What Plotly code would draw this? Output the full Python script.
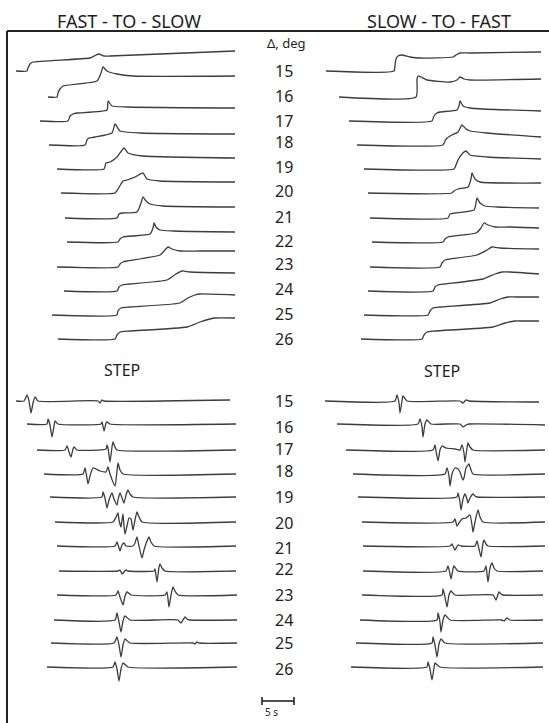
import plotly.graph_objects as go

W, H = 549, 723
MM_PER_S = 6.4          # chart speed: the 5 s scale bar is 32 mm long
RIGHT_PANEL_MM = 270    # left edge of the right-hand column on the chart sheet

DELTA_DEG = [15, 16, 17, 18, 19, 20, 21, 22, 23, 24, 25, 26]

# baselines of the rows (mm from the top of the sheet)
TOP_BASE = [71, 97, 121, 145, 169, 193, 218, 242, 267, 291, 315, 339]
BOT_BASE = [401, 424, 450, 474, 497, 522, 546, 571, 595, 620, 643, 667]
TOP_LABEL_Y = [71, 96, 121, 142, 167, 191, 217, 241, 264, 289, 314, 339]
BOT_LABEL_Y = [401, 427, 449, 471, 497, 523, 548, 569, 595, 620, 643, 669]

# ---- FAST-TO-SLOW, position records: time (mm of chart), deflection (mm, up)
FS_POS_X = [
    [16, 27, 28, 30, 33, 90, 96, 99, 104, 110, 235],
    [48, 57, 58, 60, 63, 97, 101, 103, 107, 117, 133, 235],
    [40, 68, 70, 73, 77, 107, 108, 112, 127, 235],
    [49, 85, 87, 89, 95, 112, 115, 120, 140, 235],
    [57, 104, 106, 110, 117, 124, 128, 143, 235],
    [61, 115, 118, 121, 123, 127, 135, 143, 147, 160, 235],
    [65, 117, 119, 122, 137, 141, 143, 146, 150, 163, 235],
    [67, 118, 120, 123, 150, 153, 154, 156, 160, 173, 235],
    [57, 118, 120, 123, 127, 160, 165, 168, 172, 180, 200, 235],
    [64, 117, 119, 122, 130, 167, 176, 182, 190, 235],
    [52, 117, 118, 121, 130, 180, 188, 195, 200, 235],
    [58, 115, 117, 120, 130, 187, 200, 210, 215, 235],
]
FS_POS_Y = [
    [0, 0, 3, 7, 9, 13, 16, 17, 15, 15, 20],
    [0, 0, 4, 8, 11, 16, 24, 30, 26, 23, 21, 21],
    [0, 0, 5, 7, 8, 11, 20, 15, 14, 13],
    [0, 0, 5, 7, 8, 12, 21, 14, 12, 11],
    [0, 0, 6, 7, 12, 21, 16, 13, 11],
    [0, 0, 4, 9, 12, 13, 16, 20, 14, 12, 11],
    [0, 0, 4, 5, 6, 15, 21, 17, 14, 12, 11],
    [0, 0, 3, 5, 8, 14, 19, 15, 12, 11, 10],
    [0, 0, 3, 5, 6, 12, 17, 20, 18, 16, 16, 16],
    [0, 0, 4, 6, 7, 11, 17, 20, 19, 18],
    [0, 0, 4, 7, 8, 12, 17, 20, 21, 20],
    [0, 0, 4, 7, 8, 12, 17, 20, 21, 21],
]

# ---- SLOW-TO-FAST, position records
SF_POS_X = [
    [56, 124, 125, 126, 128, 132, 140, 150, 183, 186, 190, 200, 271],
    [69, 146, 147, 148, 151, 157, 180, 187, 190, 194, 200, 271],
    [79, 162, 164, 167, 170, 187, 189, 190, 193, 200, 213, 271],
    [87, 173, 175, 177, 182, 188, 192, 196, 200, 217, 271],
    [94, 184, 186, 188, 192, 196, 200, 217, 271],
    [98, 182, 184, 188, 198, 201, 202, 205, 210, 271],
    [100, 178, 180, 185, 204, 206, 207, 210, 215, 227, 269],
    [102, 173, 175, 178, 206, 211, 214, 218, 225, 240, 269],
    [100, 170, 172, 175, 180, 207, 217, 222, 230, 269],
    [98, 163, 165, 168, 175, 213, 225, 232, 240, 269],
    [94, 158, 160, 163, 170, 220, 230, 238, 245, 269],
    [91, 152, 154, 157, 165, 223, 235, 245, 252, 269],
]
SF_POS_Y = [
    [0, 0, 6, 12, 15, 16, 14, 13, 14, 16, 18, 18, 19],
    [0, 0, 18, 21, 20, 17, 15, 17, 20, 18, 17, 18],
    [0, 0, 5, 8, 9, 11, 15, 20, 15, 13, 12, 10],
    [0, 0, 4, 7, 10, 13, 20, 16, 14, 12, 8],
    [0, 0, 4, 9, 15, 18, 14, 12, 10],
    [0, 0, 2, 4, 6, 14, 20, 14, 11, 10],
    [0, 0, 4, 5, 8, 15, 20, 15, 12, 11, 10],
    [0, 0, 3, 5, 9, 14, 19, 17, 15, 15, 14],
    [0, 0, 4, 7, 8, 12, 17, 20, 19, 18],
    [0, 0, 4, 6, 7, 12, 17, 19, 19, 17],
    [0, 0, 4, 7, 8, 12, 16, 18, 18, 18],
    [0, 0, 4, 7, 8, 12, 16, 18, 18, 18],
]

# ---- FAST-TO-SLOW, STEP (velocity) records
FS_STEP_X = [
    [16, 24, 27, 29, 31, 33, 35, 38, 98, 100, 102, 104, 230],
    [27, 47, 48, 50, 52, 54, 55, 58, 101, 102, 104, 106, 107, 110, 236],
    [37, 65, 67, 69, 71, 73, 74, 77, 106, 107, 108, 110, 112, 113, 115, 117, 236],
    [44, 83, 85, 87, 88, 90, 93, 100, 106, 108, 110, 115, 117, 118, 120, 123, 236],
    [50, 102, 103, 105, 107, 109, 112, 114, 117, 118, 120, 122, 124, 126, 128, 130, 133, 236],
    [55, 113, 116, 118, 119, 121, 122, 123, 124, 125, 127, 129, 131, 133, 135, 137, 139, 142, 236],
    [57, 115, 117, 119, 120, 122, 124, 126, 133, 135, 137, 139, 142, 144, 147, 149, 151, 154, 236],
    [59, 118, 120, 122, 124, 126, 128, 154, 155, 157, 159, 160, 162, 165, 236],
    [57, 116, 118, 120, 123, 125, 127, 131, 165, 167, 169, 171, 173, 175, 178, 237],
    [54, 115, 117, 119, 121, 123, 125, 130, 178, 181, 183, 185, 187, 190, 237],
    [51, 114, 117, 119, 121, 123, 125, 130, 193, 195, 197, 199, 237],
    [47, 113, 115, 117, 119, 121, 123, 128, 237],
]
FS_STEP_Y = [
    [0, 0, 6, 0, -12, -2, 4, 0, 0, -2, 1, 0, 1],
    [0, 0, 5, -1, -13, -2, 3, 0, 0, 2, -7, 1, 2, 0, 0],
    [0, 0, 4, -2, -7, 1, 3, 0, 1, 5, 2, -12, 3, 8, 3, 0, 0],
    [0, 0, 6, -4, -10, -2, 6, 3, 2, 7, 0, -12, 3, 11, 4, 0, 0],
    [0, 0, 5, -1, -11, -3, 4, -2, -8, -3, 4, -1, -6, 2, 7, 3, 0, 0],
    [0, 0, 5, 9, 2, -5, 2, 8, -4, -12, -4, 4, 3, -8, 2, 10, 5, 0, 0],
    [0, 0, 4, -2, -5, 1, 3, 0, 0, 3, 9, 0, -12, -4, 5, 9, 4, 0, 0],
    [0, 0, 1, -3, -1, 1, 0, 0, 2, -11, 4, 7, 3, 0, 0],
    [0, 0, 4, -2, -10, -1, 3, 0, 0, 3, -12, 0, 8, 4, 0, 0],
    [0, 0, 7, -2, -12, -1, 4, 0, 0, -3, 0, 3, 1, 0, 0],
    [0, 0, 6, -2, -14, -2, 4, 0, 0, -1, 1, 0, 0],
    [0, 0, 5, -2, -14, -2, 4, 0, 0],
]

# ---- SLOW-TO-FAST, STEP (velocity) records
SF_STEP_X = [
    [55, 125, 127, 129, 130, 132, 133, 137, 190, 193, 196, 199, 269],
    [67, 148, 150, 152, 153, 155, 157, 161, 190, 193, 196, 199, 275],
    [76, 163, 165, 166, 168, 170, 172, 176, 185, 190, 192, 194, 195, 197, 198, 200, 203, 275],
    [83, 175, 177, 179, 180, 182, 185, 188, 190, 192, 193, 194, 196, 199, 201, 203, 275],
    [88, 187, 188, 190, 191, 193, 195, 197, 198, 200, 203, 205, 207, 275],
    [92, 183, 185, 187, 189, 192, 196, 200, 202, 203, 205, 208, 210, 213, 275],
    [93, 180, 182, 185, 188, 191, 205, 207, 209, 211, 213, 214, 216, 218, 275],
    [93, 176, 178, 180, 181, 183, 184, 188, 214, 216, 217, 218, 220, 222, 224, 227, 273],
    [92, 172, 173, 175, 177, 179, 181, 185, 223, 226, 229, 231, 233, 273],
    [90, 167, 168, 170, 171, 173, 175, 180, 232, 234, 237, 240, 273],
    [86, 162, 163, 165, 167, 169, 171, 175, 273],
    [81, 157, 158, 160, 162, 164, 165, 170, 273],
]
SF_STEP_Y = [
    [0, 0, 6, -2, -12, 0, 5, 0, 0, -2, 1, 0, -1],
    [0, 0, 5, -3, -13, 0, 4, 0, 0, -3, -1, 0, -1],
    [0, 0, 5, -1, -11, 0, 4, 2, 1, 0, 5, -3, -12, 2, 7, 3, 0, 0],
    [0, 0, 6, -2, -12, 0, 6, 5, 2, -4, -6, -4, 6, 10, 4, 0, 0],
    [0, 0, 4, -5, -13, -2, 3, -2, -6, -1, 3, 1, 0, 0],
    [0, 0, 3, -4, -1, 3, 4, 7, -3, -10, 0, 12, 5, 0, 0],
    [0, 0, 2, -4, 1, 0, 0, 5, -3, -11, 3, 6, 2, 0, 0],
    [0, 0, 5, -3, -8, 2, 5, 0, 0, 5, -3, -11, 3, 8, 3, 0, 0],
    [0, 0, 6, -2, -12, 0, 4, 0, 0, -5, 3, 1, 0, 0],
    [0, 0, 7, -2, -12, 0, 5, 0, 0, -1, 2, 0, 0],
    [0, 0, 6, -2, -14, -1, 4, 0, 0],
    [0, 0, 5, -2, -13, -1, 4, 0, 0],
]

SCALE_BAR_S = 5
SCALE_BAR_START_MM = 262
SCALE_BAR_Y_MM = 701

INK = "#3c3c3c"
TXT = "#1e1e1e"
FONT = "Noto Sans, DejaVu Sans, sans-serif"

fig = go.Figure()


def add_rows(xs, ys, bases, axis):
    for xr, yr, b in zip(xs, ys, bases):
        fig.add_trace(go.Scatter(
            x=[v / MM_PER_S for v in xr],
            y=[-b + d for d in yr],
            xaxis=axis, yaxis="y", mode="lines", hoverinfo="skip",
            line=dict(color=INK, width=1.3, shape="spline", smoothing=0.5),
            showlegend=False))


add_rows(FS_POS_X, FS_POS_Y, TOP_BASE, "x")
add_rows(SF_POS_X, SF_POS_Y, TOP_BASE, "x2")
add_rows(FS_STEP_X, FS_STEP_Y, BOT_BASE, "x")
add_rows(SF_STEP_X, SF_STEP_Y, BOT_BASE, "x2")

# 5 s scale bar
x0 = SCALE_BAR_START_MM / MM_PER_S
x1 = x0 + SCALE_BAR_S
yb = -SCALE_BAR_Y_MM
fig.add_trace(go.Scatter(
    x=[x0, x1, None, x0, x0, None, x1, x1],
    y=[yb, yb, None, yb + 4, yb - 4, None, yb + 4, yb - 4],
    xaxis="x", yaxis="y", mode="lines", hoverinfo="skip", showlegend=False,
    line=dict(color="#222", width=1.6)))

ann = []


def txt(text, xpx, ymm, size, anchor="center"):
    ann.append(dict(text=text, x=xpx / W, xref="paper", y=-ymm, yref="y",
                    xanchor=anchor, yanchor="middle", showarrow=False,
                    font=dict(family=FONT, size=size, color=TXT)))


txt("FAST - TO - SLOW", 129, 21, 18)
txt("SLOW - TO - FAST", 439, 21, 18)
txt("Δ, deg", 286, 43, 13)
for d, y in zip(DELTA_DEG, TOP_LABEL_Y):
    txt(str(d), 273, y, 16, "left")
for d, y in zip(DELTA_DEG, BOT_LABEL_Y):
    txt(str(d), 273, y, 16, "left")
txt("STEP", 122, 370, 16)
txt("STEP", 442, 371, 16)
txt("5 s", 271, 712, 10)

shapes = [
    dict(type="line", xref="paper", yref="paper", x0=7 / W, x1=1,
         y0=1 - 31 / H, y1=1 - 31 / H, line=dict(color="#222", width=2)),
    dict(type="line", xref="paper", yref="paper", x0=7 / W, x1=7 / W,
         y0=1 - 31 / H, y1=0, line=dict(color="#222", width=2)),
]

fig.update_layout(
    width=W, height=H, autosize=False,
    margin=dict(l=0, r=0, t=0, b=0),
    paper_bgcolor="white", plot_bgcolor="rgba(0,0,0,0)",
    annotations=ann, shapes=shapes,
    xaxis=dict(domain=[0, 1], range=[0, W / MM_PER_S], visible=False,
               anchor="y", fixedrange=True),
    xaxis2=dict(domain=[RIGHT_PANEL_MM / W, 1],
                range=[0, (W - RIGHT_PANEL_MM) / MM_PER_S], visible=False,
                anchor="y", fixedrange=True),
    yaxis=dict(domain=[0, 1], range=[-H, 0], visible=False, fixedrange=True),
)

fig.write_html("out.html", config={"displayModeBar": False},
               post_script="document.body.style.margin='0';document.body.style.overflow='hidden';")
